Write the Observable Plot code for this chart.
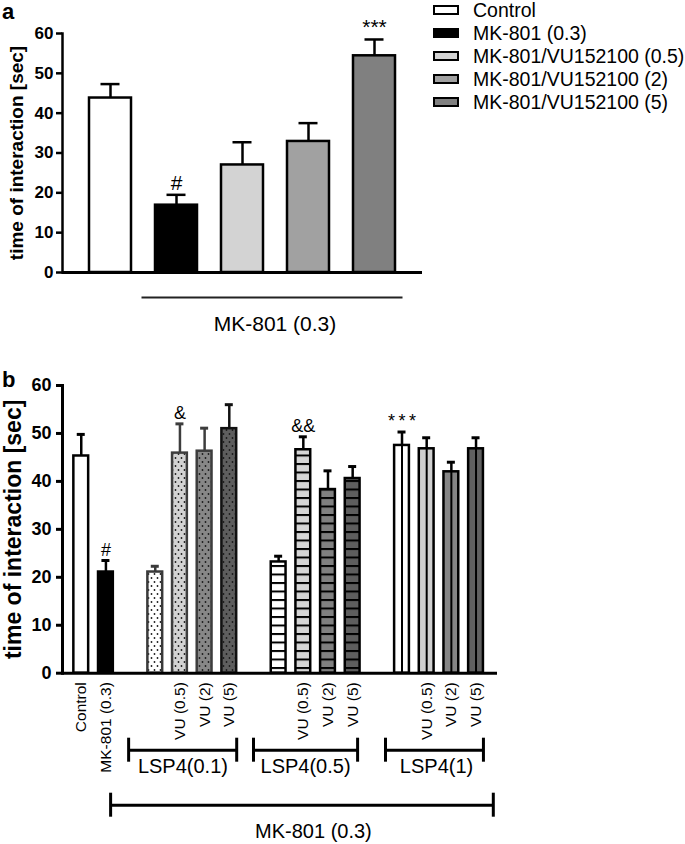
<!DOCTYPE html>
<html><head><meta charset="utf-8">
<script src="https://cdn.jsdelivr.net/npm/d3@7"></script>
<script src="https://cdn.jsdelivr.net/npm/@observablehq/plot@0.6"></script>
<style>
body{margin:0;background:#fff;font-family:"Liberation Sans",Arial,sans-serif;}
#root{position:relative;width:685px;height:844px;overflow:hidden;background:#fff;}
.abs{position:absolute;}
.plabel{font-weight:bold;font-size:22px;line-height:22px;}
.legend{position:absolute;left:433px;top:1px;font-size:19.5px;color:#000;}
.legend .row{display:flex;align-items:center;height:18px;margin-bottom:5px;white-space:nowrap;}
.legend .row span{line-height:18px;}
.legend .sw{width:26px;height:10px;border:2px solid #000;box-sizing:border-box;margin-right:14px;flex:none;}
</style></head><body><div id="root"></div>
<script>
// ---------- Panel a data ----------
const groupsA = ["Control", "MK-801 (0.3)", "MK-801/VU152100 (0.5)", "MK-801/VU152100 (2)", "MK-801/VU152100 (5)"];
const meanA = [43.8, 16.9, 27.0, 32.9, 54.4];
const semA = [3.5, 2.6, 5.7, 4.6, 4.1];
const markA = ["", "#", "", "", "***"];
const yTicksA = [0, 10, 20, 30, 40, 50, 60];
const bracketAFrom = ["MK-801 (0.3)"];
const bracketATo = ["MK-801/VU152100 (5)"];
const bracketALabel = ["MK-801 (0.3)"];
const yLabel = "time of interaction [sec]";
// styles for panel a
const fillA = ["#ffffff", "#000000", "#d3d3d3", "#a1a1a1", "#808080"];

// ---------- Panel b data ----------
const slotsB = [0, 1, 3, 4, 5, 6, 8, 9, 10, 11, 13, 14, 15, 16];
const meanB = [45.3, 21.1, 21.1, 45.9, 46.3, 51.0, 23.2, 46.6, 38.3, 40.6, 47.5, 46.8, 42.0, 46.8];
const semB = [4.5, 2.4, 1.2, 6.1, 4.8, 5.0, 1.2, 2.7, 3.9, 2.5, 2.8, 2.3, 2.0, 2.3];
const markB = ["", "#", "", "&", "", "", "", "&&", "", "", "*\u2009*\u2009*", "", "", ""];
const tickSlotsB = [0, 1, 4, 5, 6, 9, 10, 11, 14, 15, 16];
const tickLabelsB = ["Control", "MK-801 (0.3)", "VU (0.5)", "VU (2)", "VU (5)", "VU (0.5)", "VU (2)", "VU (5)", "VU (0.5)", "VU (2)", "VU (5)"];
const yTicksB = [0, 10, 20, 30, 40, 50, 60];
const lspLabels = ["LSP4(0.1)", "LSP4(0.5)", "LSP4(1)"];
const lspFrom = [1.92, 6.98, 12.33];
const lspTo = [6.3, 11.2, 16.3];
const lspLabelAt = [4.12, 9.09, 14.4];
const mkLabels = ["MK-801 (0.3)"];
const mkFrom = [1.19];
const mkTo = [16.7];
const mkLabelAt = [9.41];
// styles for panel b
const fillB = ["#ffffff", "#000000", "#ffffff", "#d2d2d2", "#878787", "#5e5e5e", "#ffffff", "#d6d6d6", "#808080", "#5e5e5e", "#ffffff", "#d0d0d0", "#858585", "#606060"];
const strokeB = ["#000", "#000", "#3a3a3a", "#3d3d3d", "#3d3d3d", "#111", "#000", "#000", "#000", "#000", "#000", "#000", "#000", "#000"];
const patternB = ["", "", "dots", "dots", "dots", "dots", "stripes", "stripes", "stripes", "stripes", "vline", "vline", "vline", "vline"];

const FONT = "'Liberation Sans', Arial, sans-serif";
const root = document.getElementById("root");

// ---------- Panel a ----------
const rowsA = groupsA.map((g, i) => ({group: g, mean: meanA[i], sem: semA[i], mark: markA[i], fill: fillA[i]}));
const bracketRowsA = bracketALabel.map((l, i) => ({from: bracketAFrom[i], to: bracketATo[i], label: l}));

const plotA = Plot.plot({
  width: 440, height: 340,
  marginLeft: 62, marginRight: 18, marginTop: 33, marginBottom: 68,
  style: {fontFamily: FONT, background: "transparent", overflow: "visible", color: "#000"},
  x: {type: "band", domain: groupsA, paddingInner: 0.358, paddingOuter: 0.366, axis: null},
  y: {domain: [0, 60], axis: null},
  color: {type: "identity"},
  marks: [
    Plot.barY(rowsA, {x: "group", y: "mean", fill: "fill", stroke: "#000", strokeWidth: 2.5}),
    Plot.ruleX(rowsA, {x: "group", y1: "mean", y2: d => d.mean + d.sem, stroke: "#000", strokeWidth: 2.5}),
    Plot.ruleY(rowsA, {x1: "group", x2: "group", y: d => d.mean + d.sem, insetLeft: 11.5, insetRight: 11.5, stroke: "#000", strokeWidth: 2.5}),
    Plot.text(rowsA.filter(d => d.mark), {x: "group", y: d => d.mean + d.sem, text: "mark", lineAnchor: "bottom", dy: -5, fontSize: 21, fontFamily: FONT, fill: "#000"}),
    Plot.ruleY([0], {stroke: "#000", strokeWidth: 3}),
    Plot.frame({anchor: "left", stroke: "#000", strokeWidth: 2.5}),
    Plot.axisY({ticks: yTicksA, tickSize: 6, tickPadding: 3, fontSize: 17, fontWeight: "bold", strokeWidth: 2.5, label: null}),
    Plot.text([yLabel], {text: d => d, frameAnchor: "left", textAnchor: "middle", rotate: -90, dx: -46, fontSize: 19, fontWeight: "bold", fill: "#000"}),
    Plot.ruleY(bracketRowsA, {x1: "from", x2: "to", y: () => 0, dy: 25, insetLeft: -13.5, insetRight: -7.5, stroke: "#222", strokeWidth: 2}),
    Plot.text(bracketRowsA, {x: () => groupsA[3], y: () => 0, text: "label", dx: -33.5, dy: 52, lineAnchor: "middle", fontSize: 21, fill: "#000"})
  ]
});
plotA.classList.add("abs");
plotA.style.left = "0px"; plotA.style.top = "0px";
root.appendChild(plotA);

const la = document.createElement("div");
la.className = "abs plabel"; la.textContent = "a"; la.style.left = "2px"; la.style.top = "1px";
root.appendChild(la);

// legend
const legend = document.createElement("div");
legend.className = "legend";
groupsA.forEach((g, i) => {
  const row = document.createElement("div"); row.className = "row";
  const sw = document.createElement("div"); sw.className = "sw"; sw.style.background = fillA[i];
  const t = document.createElement("span"); t.textContent = g;
  row.appendChild(sw); row.appendChild(t); legend.appendChild(row);
});
root.appendChild(legend);

// ---------- Panel b ----------
const HALF = 0.3; // half bar width, in slot units
const rowsB = slotsB.map((s, i) => ({slot: s, mean: meanB[i], sem: semB[i], mark: markB[i], fill: fillB[i], stroke: strokeB[i], pattern: patternB[i]}));
const lspRows = lspLabels.map((l, i) => ({label: l, from: lspFrom[i], to: lspTo[i], at: lspLabelAt[i]}));
const mkRows = mkLabels.map((l, i) => ({label: l, from: mkFrom[i], to: mkTo[i], at: mkLabelAt[i]}));
const ends = rows => rows.flatMap(r => [r.from, r.to]);

const plotB = Plot.plot({
  width: 685, height: 484,
  marginLeft: 62, marginRight: 188, marginTop: 25, marginBottom: 171.3,
  style: {fontFamily: FONT, background: "transparent", overflow: "visible", color: "#000"},
  x: {domain: [-0.76, 16.87], axis: null},
  y: {domain: [0, 60], axis: null},
  color: {type: "identity"},
  marks: [
    Plot.rect(rowsB, {x1: d => d.slot - HALF, x2: d => d.slot + HALF, y1: () => 0, y2: "mean", fill: "fill"}),
    Plot.rect(rowsB.filter(d => d.pattern === "dots"), {x1: d => d.slot - HALF, x2: d => d.slot + HALF, y1: () => 0, y2: "mean", fill: "url(#dotsB)"}),
    Plot.rect(rowsB.filter(d => d.pattern === "stripes"), {x1: d => d.slot - HALF, x2: d => d.slot + HALF, y1: () => 0, y2: "mean", fill: "url(#stripesB)"}),
    Plot.ruleX(rowsB.filter(d => d.pattern === "vline"), {x: "slot", y1: () => 0, y2: "mean", stroke: "#000", strokeWidth: 2}),
    Plot.rect(rowsB, {x1: d => d.slot - HALF, x2: d => d.slot + HALF, y1: () => 0, y2: "mean", fill: "none", stroke: "stroke", strokeWidth: 2.5}),
    Plot.ruleX(rowsB, {x: "slot", y1: "mean", y2: d => d.mean + d.sem, stroke: "stroke", strokeWidth: 2.5}),
    Plot.ruleY(rowsB, {x1: "slot", x2: "slot", y: d => d.mean + d.sem, insetLeft: -4, insetRight: -4, stroke: "stroke", strokeWidth: 3}),
    Plot.text(rowsB.filter(d => d.mark), {x: "slot", y: d => d.mean + d.sem, text: "mark", lineAnchor: "bottom", dy: -5, fontSize: 18, fontFamily: FONT, fill: "#000"}),
    Plot.ruleY([0], {stroke: "#000", strokeWidth: 3}),
    Plot.frame({anchor: "left", stroke: "#000", strokeWidth: 3}),
    Plot.axisY({ticks: yTicksB, tickSize: 6, tickPadding: 5, fontSize: 18, fontWeight: "bold", strokeWidth: 3, label: null}),
    Plot.axisX({ticks: tickSlotsB, tickFormat: d => tickLabelsB[tickSlotsB.indexOf(d)], tickRotate: -90, tickSize: 0, tickPadding: 9, fontSize: 15.5, label: null}),
    Plot.text([yLabel], {text: d => d, frameAnchor: "left", textAnchor: "middle", rotate: -90, dx: -49, fontSize: 23, fontWeight: "bold", fill: "#000"}),
    // LSP4 brackets
    Plot.ruleY(lspRows, {x1: "from", x2: "to", y: () => 0, dy: 77, stroke: "#000", strokeWidth: 3}),
    Plot.ruleX(ends(lspRows), {x: d => d, y1: () => 0, y2: () => 0, insetTop: -12, insetBottom: -12, dy: 77, stroke: "#000", strokeWidth: 3}),
    Plot.text(lspRows, {x: "at", y: () => 0, text: "label", dy: 93, lineAnchor: "middle", fontSize: 20, fill: "#000"}),
    // MK-801 bracket
    Plot.ruleY(mkRows, {x1: "from", x2: "to", y: () => 0, dy: 132, stroke: "#000", strokeWidth: 3}),
    Plot.ruleX(ends(mkRows), {x: d => d, y1: () => 0, y2: () => 0, insetTop: -12, insetBottom: -12, dy: 132, stroke: "#000", strokeWidth: 3}),
    Plot.text(mkRows, {x: "at", y: () => 0, text: "label", dy: 158, lineAnchor: "middle", fontSize: 20, fill: "#000"})
  ]
});
plotB.insertAdjacentHTML("afterbegin",
  '<defs>' +
  '<pattern id="dotsB" patternUnits="userSpaceOnUse" width="6" height="8"><circle cx="1.5" cy="2" r="0.9" fill="#1a1a1a"/><circle cx="4.5" cy="6" r="0.9" fill="#1a1a1a"/></pattern>' +
  '<pattern id="stripesB" patternUnits="userSpaceOnUse" width="10" height="8.5" y="1"><rect x="0" y="0" width="10" height="2" fill="#000"/></pattern>' +
  '</defs>');
plotB.classList.add("abs");
plotB.style.left = "0px"; plotB.style.top = "360px";
root.appendChild(plotB);

const lb = document.createElement("div");
lb.className = "abs plabel"; lb.textContent = "b"; lb.style.left = "2px"; lb.style.top = "369px";
root.appendChild(lb);
</script>
</body></html>
